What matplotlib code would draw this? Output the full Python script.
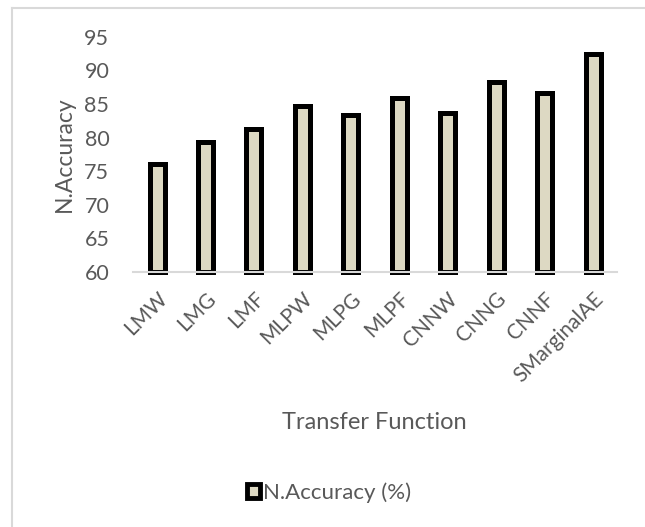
import matplotlib.pyplot as plt
from matplotlib.lines import Line2D

plt.rcParams['font.family'] = ['Lato', 'DejaVu Sans']

models = ['LMW', 'LMG', 'LMF', 'MLPW', 'MLPG', 'MLPF', 'CNNW', 'CNNG', 'CNNF', 'SMarginalAE']
accuracy = [76.1, 79.3, 81.3, 84.7, 83.3, 85.9, 83.6, 88.3, 86.7, 92.4]
yticks = [60, 65, 70, 75, 80, 85, 90, 95]

text_color = '#595959'
grid_color = '#D9D9D9'

fig = plt.figure(figsize=(6.45, 5.27), dpi=100)
ax = fig.add_axes([0.206, 0.484, 0.751, 0.446])

x = range(len(models))
bars = ax.bar(x, [a - 60 for a in accuracy], bottom=60, width=0.31,
              color='#DDD9C3', edgecolor='black', linewidth=3.6,
              clip_on=False, zorder=2, label='N.Accuracy (%)')

ax.set_xlim(-0.5, len(models) - 0.5)
ax.set_ylim(60, 95)
ax.set_yticks(yticks)
ax.set_xticks(list(x))
ax.set_xticklabels(models, rotation=45, ha='right', rotation_mode='anchor')

for s in ['top', 'right', 'left']:
    ax.spines[s].set_visible(False)
ax.spines['bottom'].set_color(grid_color)
ax.spines['bottom'].set_linewidth(1.5)
ax.spines['bottom'].set_zorder(3)

ax.tick_params(axis='both', length=0, colors=text_color)
ax.tick_params(axis='y', pad=17, labelsize=15.5)
ax.tick_params(axis='x', pad=12, labelsize=15)

ax.set_ylabel('N.Accuracy', fontsize=16.5, color=text_color, labelpad=7)
fig.text(0.580, 0.199, 'Transfer Function', fontsize=17, color=text_color,
         ha='center', va='center')

leg = fig.legend(handles=[bars.patches[0]], labels=['N.Accuracy (%)'],
                 loc='center', bbox_to_anchor=(0.51, 0.066), frameon=False,
                 fontsize=16, handlelength=0.6, handleheight=0.6,
                 handletextpad=0.15, labelcolor=text_color)
leg.legend_handles[0].set_linewidth(3.5)

# chart frame
fig.add_artist(Line2D([12 / 645, 12 / 645], [0, 1 - 8 / 527],
                      color=grid_color, lw=1.5))
fig.add_artist(Line2D([12 / 645, 1], [1 - 8 / 527, 1 - 8 / 527],
                      color=grid_color, lw=1.5))

fig.savefig('out.png', dpi=100)
